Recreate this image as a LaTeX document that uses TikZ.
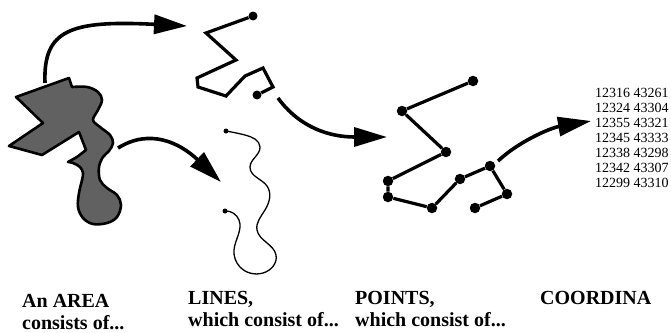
\documentclass[tikz,border=0pt]{standalone}
\usepackage{fontspec}
\setmainfont{Liberation Serif}
\usetikzlibrary{arrows.meta,hobby}
\tikzset{flow/.style={line width=3.6pt, -{Triangle[length=33pt,width=19pt]}},
         chain/.style={line width=3.2pt},
         wiggle/.style={line width=1.3pt},
         vertex/.style={circle, fill, inner sep=0pt, minimum size=#1},
         vertex/.default={10.5pt},
         heading/.style={anchor=base west, inner sep=0pt,
                         font=\fontsize{20}{22}\selectfont\bfseries},
         numbers/.style={anchor=base west, inner sep=0pt,
                         font=\fontsize{14}{15}\selectfont}}

\begin{document}
\begin{tikzpicture}[x=1pt,y=-1pt]
  \useasboundingbox (0,0) rectangle (671,332);
  \clip (0,0) rectangle (671,332);
  % the area
  \filldraw[fill=black!62, line width=2.6pt, line join=round]
    (16,97) -- (69,78) -- (72,87)
    -- plot[smooth, tension=0.6] coordinates {(72,87) (87,87) (98,92) (102,100)
       (98,110) (93,120) (100,127) (110,135) (113,143) (109,151) (103,157)
       (99,167) (100,180) (107,188) (117,195) (121,205) (117,217) (107,223)
       (93,224) (83,218) (78,207) (79,193) (82,180) (83,173) (80,167) (73,163) (68,162)}
    -- (77,157) -- (86,150) -- (79,132) -- (42,155) -- (9,146) -- (43,123) -- cycle;
  % a broken line
  \node[vertex=9pt] (l1) at (253,16) {};
  \node[vertex=9pt] (l2) at (257,95) {};
  \draw[chain] (l1) -- (206,33) -- (236,60) -- (197,78) -- (198,87) -- (226,96)
    -- (245,76) -- (263,68) -- (273,87) -- (l2);
  % a curved line
  \node[vertex=5pt] (w1) at (226,131) {};
  \node[vertex=5pt] (w2) at (225,211) {};
  \draw[wiggle, use Hobby shortcut] (w1.center) .. (245,135) .. (260,147) .. (250,167)
    .. (267,186) .. (265,210) .. (257,230) .. (276,255) .. (263,273) .. (240,267)
    .. (234,250) .. (239,220) .. (w2.center);
  % the points
  \foreach \pos [count=\i] in {(473,81),(402,111),(446,152),(388,181),(388,197),
                               (432,208),(460,179),(490,166),(507,194),(475,208)}
    \node[vertex] (p\i) at \pos {};
  \draw[chain] (p1) -- (p2) -- (p3) -- (p4) -- (p5) -- (p6) -- (p7) -- (p8)
    -- (p9) -- (p10);
  % coordinates
  \foreach \row [count=\i] in {12316 43261, 12324 43304, 12355 43321, 12345 43333,
                               12338 43298, 12342 43307, 12299 43310}
    \node[numbers] (n\i) at (595,{97+15*(\i-1)}) {\row};
  % arrows
  \coordinate (a1) at (45,83);   \coordinate (b1) at (187,26);
  \coordinate (a2) at (118,148); \coordinate (b2) at (221,182);
  \coordinate (a3) at (278,98);  \coordinate (b3) at (387,137);
  \coordinate (a4) at (498,161); \coordinate (b4) at (591,121);
  \draw[flow] (a1) .. controls (43,30) and (70,20) .. (b1);
  \draw[flow] (a2) .. controls (150,128) and (180,143) .. (b2);
  \draw[flow] (a3) .. controls (300,128) and (330,137) .. (b3);
  \draw[flow] (a4) .. controls (518,142) and (550,128) .. (b4);
  % labels
  \node[heading] (area)    at (22,307)  {An AREA};
  \node[heading] (area2)   at (22,329)  {consists of...};
  \node[heading] (lines)   at (188,304) {LINES,};
  \node[heading] (lines2)  at (188,326) {which consist of...};
  \node[heading] (points)  at (355,304) {POINTS,};
  \node[heading] (points2) at (355,326) {which consist of...};
  \node[heading] (coords)  at (540,304) {COORDINA};
\end{tikzpicture}
\end{document}
